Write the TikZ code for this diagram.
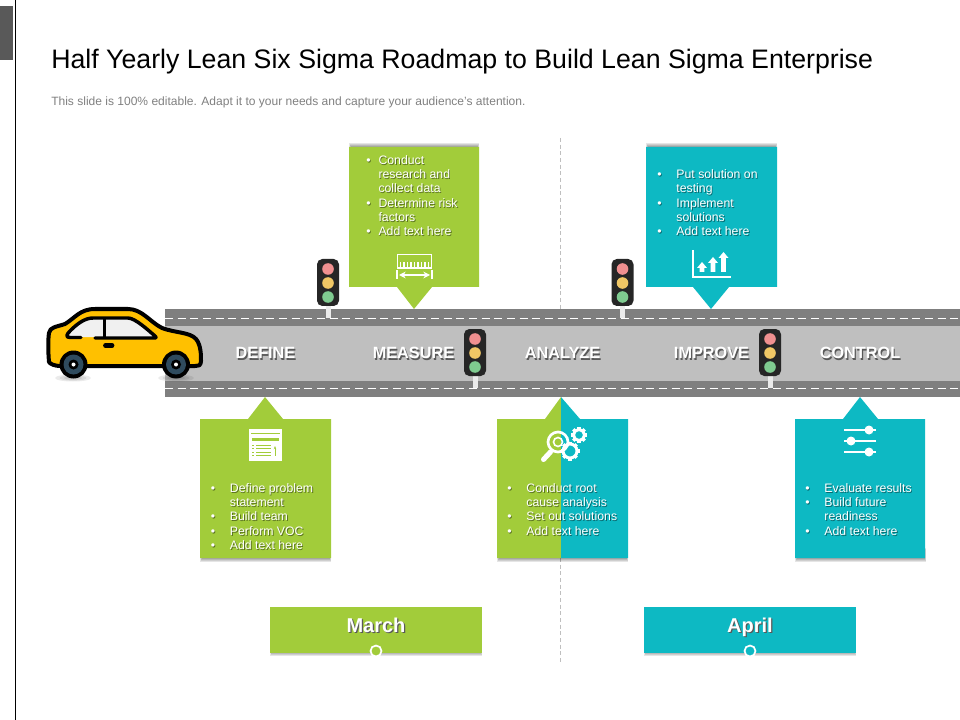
\documentclass[tikz,border=0pt]{standalone}
\usepackage{fontspec}
\setmainfont{Liberation Sans}
\usepackage{tikz}
\usetikzlibrary{arrows.meta,positioning}

\definecolor{leafgreen}{HTML}{A2CC3A}
\definecolor{tealblue}{HTML}{0DB9C3}
\definecolor{roaddark}{HTML}{7F7F7F}
\definecolor{roadlight}{HTML}{BFBFBF}
\definecolor{carbody}{HTML}{FFC000}
\definecolor{wheelhub}{HTML}{2F4B5E}
\definecolor{lampred}{HTML}{F09090}
\definecolor{lampyellow}{HTML}{F0C765}
\definecolor{lampgreen}{HTML}{7FCB90}

\newcommand{\itm}{\makebox[14.4pt][l]{\textbullet}}
\newcommand{\itmm}{\makebox[9.2pt][l]{\textbullet}}
\newcommand{\shadowed}[1]{\rlap{\hspace{0.9pt}\raisebox{-0.9pt}{\textcolor{black!65}{#1}}}#1}
\newcommand{\softshadow}[4]{%
    \foreach \d in {0,1,2,3,4}{
        \fill[black,opacity=0.1] (#1-\d/2,#2-\d) rectangle (#3+\d/2,#4+\d);
    }}
\newcommand{\bodynode}[4]{%
    \node[bodytext,text=black,opacity=0.45] at (#2+0.9,#3+0.9) {#4};
    \node[bodytext] (#1) at (#2,#3) {#4};}

\tikzset{
    roadlabel/.style={text=white,font=\bfseries\fontsize{12.2}{14}\selectfont,inner sep=0pt},
    monthbox/.style={minimum width=159pt,minimum height=34.5pt,inner sep=0pt},
    monthtext/.style={anchor=base,inner sep=0pt,text=white,font=\bfseries\fontsize{15}{17}\selectfont},
    bodytext/.style={anchor=north west,inner sep=0pt,align=left,text=white,font=\fontsize{9.2}{10.75}\selectfont},
    lane/.style={white,line width=0.75pt,dash pattern=on 6pt off 3.5pt},
    icon/.style={white,line width=1.4pt},
}

\begin{document}
\begin{tikzpicture}[x=0.75pt,y=-0.75pt]
    \useasboundingbox (0,0) rectangle (960,720);
    % frame
    \fill[black!65] (0,6) rectangle (13,60);
    \draw[black,line width=0.7pt] (15.5,0) -- (15.5,720);
    \node[anchor=west,inner sep=0pt,font=\fontsize{20.04}{23}\selectfont] (title) at (51,62) {Half Yearly Lean Six Sigma Roadmap to Build Lean Sigma Enterprise};
    \node[anchor=west,inner sep=0pt,text=black!50,font=\fontsize{9.02}{11}\selectfont] (subtitle) at (51,102) {This slide is 100\% editable. Adapt it to your needs and capture your audience's attention.};
    \draw[black!25,line width=0.5pt,densely dashed] (560.5,138) -- (560.5,662);
    % road
    \fill[roaddark] (165,309) rectangle (960,397);
    \fill[roadlight] (165,326) rectangle (960,381);
    \draw[lane] (165,318) -- (960,318);
    \draw[lane] (165,388) -- (960,388);
    \node[roadlabel] (define) at (265.5,354) {\shadowed{DEFINE}};
    \node[roadlabel] (measure) at (413.5,354) {\shadowed{MEASURE}};
    \node[roadlabel] (analyze) at (562.5,354) {\shadowed{ANALYZE}};
    \node[roadlabel] (improve) at (711.5,354) {\shadowed{IMPROVE}};
    \node[roadlabel] (control) at (860,354) {\shadowed{CONTROL}};
    % traffic lights
    \foreach \x/\y in {328/259,622.5/259,475/329,770/329}{
        \fill[black!8] (\x-2.5,\y+46) rectangle (\x+2.5,\y+59);
        \fill[black!85,rounded corners=4pt] (\x-11,\y) rectangle (\x+11,\y+47);
        \fill[lampred] (\x,\y+10) circle (5.8);
        \fill[lampyellow] (\x,\y+24) circle (5.8);
        \fill[lampgreen] (\x,\y+38) circle (5.8);
    }
    % upper callouts
    \softshadow{351}{147}{477}{150}
    \fill[leafgreen] (349,147) -- (479,147) -- (479,287) -- (432,287) -- (414,309) -- (397,287) -- (349,287) -- cycle;
    \softshadow{648}{147}{775}{150}
    \fill[tealblue] (646,147) -- (777,147) -- (777,287) -- (729,287) -- (711,309) -- (693,287) -- (646,287) -- cycle;
    % lower callouts
    \foreach \x in {200,497,795}{
        \softshadow{\x+2}{552}{\x+129}{558}
    }
    \fill[leafgreen] (200,419) -- (248,419) -- (265,397) -- (283,419) -- (331,419) -- (331,558) -- (200,558) -- cycle;
    \fill[leafgreen] (497,419) -- (545,419) -- (561,397) -- (561,558) -- (497,558) -- cycle;
    \fill[tealblue] (561,397) -- (580,419) -- (628,419) -- (628,558) -- (561,558) -- cycle;
    \fill[tealblue] (795,419) -- (843,419) -- (860,397) -- (878,419) -- (925,419) -- (925,558) -- (795,558) -- cycle;
    % callout text
    \bodynode{measuretext}{366}{155}{\itmm Conduct\\\hspace*{9.2pt}research and\\\hspace*{9.2pt}collect data\\\itmm Determine risk\\\hspace*{9.2pt}factors\\\itmm Add text here}
    \bodynode{improvetext}{657}{169.5}{\itm Put solution on\\\hspace*{14.4pt}testing\\\itm Implement\\\hspace*{14.4pt}solutions\\\itm Add text here}
    \bodynode{definetext}{210.5}{483}{\itm Define problem\\\hspace*{14.4pt}statement\\\itm Build team\\\itm Perform VOC\\\itm Add text here}
    \bodynode{analyzetext}{507}{483}{\itm Conduct root\\\hspace*{14.4pt}cause analysis\\\itm Set out solutions\\\itm Add text here}
    \bodynode{controltext}{805}{483}{\itm Evaluate results\\\itm Build future\\\hspace*{14.4pt}readiness\\\itm Add text here}
    % month boxes
    \softshadow{272}{650}{480}{651.5}
    \softshadow{646}{650}{854}{651.5}
    \node[monthbox,fill=leafgreen] (march) at (376,630) {};
    \node[monthbox,fill=tealblue] (april) at (750,630) {};
    \node[monthtext] (marchtext) at (376,632.5) {\shadowed{March}};
    \node[monthtext] (apriltext) at (750,632.5) {\shadowed{April}};
    \draw[white,line width=1.3pt,fill=leafgreen] (376,651) circle (5.5);
    \draw[white,line width=1.3pt,fill=tealblue] (750,651) circle (5.5);
    % ruler icon
    \draw[icon] (397.5,254.5) rectangle (431.5,268);
    \foreach \x in {400.5,404,...,429}{
        \draw[white,line width=1pt] (\x,267) -- (\x,262.5);
    }
    \draw[white,line width=1.3pt,{Stealth[length=5pt,width=5pt]}-{Stealth[length=5pt,width=5pt]}] (399,275) -- (430,275);
    \draw[white,line width=1.3pt] (397,270.5) -- (397,279.5) (432,270.5) -- (432,279.5);
    % document icon
    \fill[white] (249,429) rectangle (282,461);
    \draw[leafgreen,line width=0.6pt] (251,433) -- (280,433);
    \fill[leafgreen] (252,438) rectangle (279,441);
    \foreach \y in {445,448.5,452,455.5}{
        \draw[leafgreen,line width=0.7pt] (252,\y) -- (254,\y) (256,\y) -- (271,\y);
    }
    \draw[leafgreen,line width=0.7pt,-{Stealth[length=2.5pt]}] (275,455.5) -- (275,446);
    % magnifier and gears
    \draw[white,line width=2pt] (558,442) circle (10);
    \draw[white,line width=1.2pt] (558,442) circle (4.5);
    \draw[white,line width=3.8pt,line cap=round] (550.5,452) -- (543.5,459.5);
    \foreach \cx/\cy/\r in {579/435/5.5,570/451/7}{
        \draw[white,line width=2.2pt] (\cx,\cy) circle (\r);
        \foreach \a in {0,45,...,315}{
            \draw[white,line width=2.4pt] (\cx,\cy) ++(\a:\r) -- ++(\a:2.5);
        }
    }
    % chart icon
    \draw[white,line width=1.7pt] (693,250) -- (693,277) -- (731,277);
    \foreach \x/\y in {702/262,713/257,723.5/252}{
        \fill[white] (\x-5,\y+6) -- (\x,\y) -- (\x+5,\y+6) -- (\x+2.4,\y+6) -- (\x+2.4,272) -- (\x-2.4,272) -- (\x-2.4,\y+6) -- cycle;
    }
    % slider icon
    \foreach \y/\k in {430/869,441/851,452/869}{
        \draw[white,line width=1.2pt] (844,\y) -- (876,\y);
        \fill[white] (\k,\y) circle (4.5);
    }
    % car
    \foreach \r in {1,0.75,0.5}{
        \fill[black,opacity=0.08] (73,378) ellipse ({18*\r} and {3.5*\r});
        \fill[black,opacity=0.08] (176,378) ellipse ({18*\r} and {3.5*\r});
    }
    \draw[black,line width=3pt,fill=carbody,line join=round] (49,362) .. controls (48,350) and (48,340) .. (49,333) .. controls (50,327) and (56,327) .. (65,324)
        .. controls (75,318) and (80,309) .. (95,309) -- (128,309) .. controls (142,309) and (150,322) .. (162,328)
        .. controls (175,333) and (190,332) .. (196,339) .. controls (201,345) and (201,355) .. (201,361) .. controls (201,366) and (198,366) .. (195,366) -- (60,366) .. controls (55,366) and (50,364) .. (49,362) -- cycle;
    \fill[black!6] (67,337) .. controls (75,328) and (82,318) .. (93,318) -- (128,318) .. controls (135,318) and (148,330) .. (156,337) -- cycle;
    \draw[black,line width=2.6pt,line cap=round,line join=round] (81,337.5) -- (70,337.5) .. controls (65,337.5) and (67,334) .. (70,331) .. controls (76,325) and (84,318) .. (93,318) -- (128,318) .. controls (135,318) and (148,330) .. (155,336) .. controls (157,338) and (156,338) .. (153,338) -- (95,338);
    \draw[black,line width=2.6pt] (104.5,318) -- (104.5,338);
    \draw[black,line width=3.6pt,line cap=round] (105.5,345.5) -- (112,345.5);
    \foreach \x in {73.5,176}{
        \fill[black] (\x,364.5) circle (14);
        \fill[wheelhub] (\x,364.5) circle (10);
        \fill[black] (\x,364.5) circle (5);
        \fill[white] (\x,364.5) circle (2);
    }
\end{tikzpicture}
\end{document}
